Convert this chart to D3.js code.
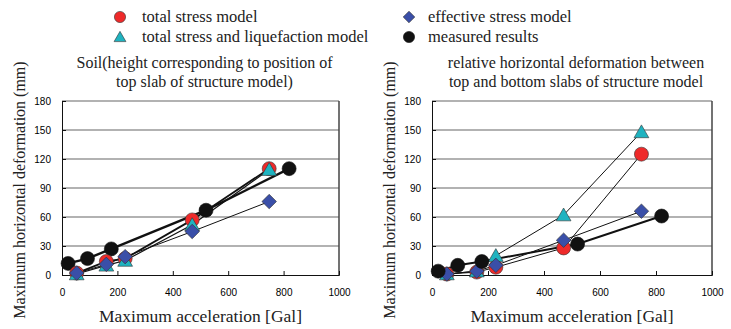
<!DOCTYPE html>
<html>
<head>
<meta charset="utf-8">
<script src="https://cdn.jsdelivr.net/npm/d3@7"></script>
<style>
  body { margin: 0; background: #fff; }
  svg { display: block; }
  .tick text { font-family: "Liberation Sans Narrow", "Arial Narrow", "Liberation Sans", Arial, sans-serif; font-size: 10px; }
</style>
</head>
<body>
<div id="chart"></div>
<script>
// accelerations [Gal]
const modelAccel = [53, 160, 228, 470, 748];
const measAccel = [22, 92, 178, 520, 820];

// left panel: soil at top slab height
const leftTotal = [2, 14, 17, 57, 110];
const leftLiq = [1, 10, 15, 52, 109];
const leftEff = [2, 11, 19, 45, 76];
const leftMeas = [12, 17, 27, 67, 110];

// right panel: relative deformation between slabs
const rightTotal = [1, 3, 8, 28, 125];
const rightLiq = [1, 4, 20, 62, 148];
const rightEff = [1, 4, 10, 36, 66];
const rightMeas = [4, 10, 14, 32, 61];

const xTicks = [0, 200, 400, 600, 800, 1000];
const yTicks = [0, 30, 60, 90, 120, 150, 180];

const legendItems = [
  { label: "total stress model", kind: "total" },
  { label: "total stress and liquefaction model", kind: "liq" },
  { label: "effective stress model", kind: "eff" },
  { label: "measured results", kind: "meas" }
];

const fills = { total: "#ee2a2a", liq: "#1fb3c0", eff: "#3a4fa8", meas: "#111" };
const serif = '"Liberation Serif", "DejaVu Serif", "Times New Roman", serif';

const width = 731, height = 329;
const svg = d3.select("#chart").append("svg")
  .attr("width", width)
  .attr("height", height);

function label(sel, size) {
  return sel.append("text")
    .style("font-family", serif)
    .style("font-size", size + "px")
    .attr("fill", "#222");
}

function marker(sel, kind, s) {
  if (kind === "total" || kind === "meas") {
    sel.append("circle").attr("r", 7 * s);
  } else if (kind === "liq") {
    sel.append("path").attr("d", d3.symbol(d3.symbolTriangle, 95 * s * s)())
      .attr("transform", `translate(0,${1.5 * s})`);
  } else {
    sel.append("path").attr("d", d3.symbol(d3.symbolSquare, 105 * s * s)())
      .attr("transform", "rotate(45)");
  }
  sel.selectAll("circle,path")
    .attr("fill", fills[kind])
    .attr("stroke", kind === "meas" ? "#111" : "#333")
    .attr("stroke-width", 0.6);
}

function panel(x0, x1, titleLines, series) {
  const x = d3.scaleLinear().domain([0, 1000]).range([x0, x1]);
  const y = d3.scaleLinear().domain([0, 180]).range([275, 101]);

  const g = svg.append("g");

  // grid
  g.append("g").selectAll("line")
    .data(yTicks.slice(1))
    .join("line")
    .attr("x1", x0).attr("x2", x1)
    .attr("y1", d => y(d)).attr("y2", d => y(d))
    .attr("stroke", "#999").attr("stroke-width", 1.5);

  g.append("line")
    .attr("x1", x1).attr("x2", x1).attr("y1", y(180)).attr("y2", y(0))
    .attr("stroke", "#444").attr("stroke-width", 1.5);

  g.append("g")
    .attr("transform", `translate(0,${y(0)})`)
    .call(d3.axisBottom(x).tickValues(xTicks).tickFormat(d3.format("d")).tickSize(-4).tickPadding(14))
    .call(a => a.select(".domain").attr("stroke", "#111"))
    .call(a => a.selectAll(".tick line").attr("stroke", "#111"));

  g.append("g")
    .attr("transform", `translate(${x0},0)`)
    .call(d3.axisLeft(y).tickValues(yTicks).tickSize(-4).tickPadding(11))
    .call(a => a.select(".domain").attr("stroke", "#111"))
    .call(a => a.selectAll(".tick line").attr("stroke", "#111"));

  const line = d3.line().x(d => x(d[0])).y(d => y(d[1]));

  series.forEach(s => {
    const pts = s.xs.map((v, i) => [v, s.ys[i]]);
    g.append("path")
      .attr("d", line(pts))
      .attr("fill", "none")
      .attr("stroke", "#111")
      .attr("stroke-width", s.lw);
  });

  series.forEach(s => {
    const pts = s.xs.map((v, i) => [v, s.ys[i]]);
    g.append("g").selectAll("g")
      .data(pts)
      .join("g")
      .attr("transform", d => `translate(${x(d[0])},${y(d[1])})`)
      .each(function () { marker(d3.select(this), s.kind, 1); });
  });

  const cx = (x0 + x1) / 2 + 4;
  label(g, 16).attr("x", cx).attr("y", 68)
    .attr("text-anchor", "middle").text(titleLines[0]);
  label(g, 16).attr("x", cx).attr("y", 87)
    .attr("text-anchor", "middle").text(titleLines[1]);

  label(g, 17.5).attr("x", (x0 + x1) / 2).attr("y", 322)
    .attr("text-anchor", "middle").text("Maximum acceleration [Gal]");

  label(g, 16).attr("transform", `translate(${x0 - 37},190) rotate(-90)`)
    .attr("text-anchor", "middle").text("Maximum horizontal deformation (mm)");
}

panel(62, 339,
  ["Soil(height corresponding to position of", "top slab of structure model)"],
  [
    { kind: "meas", xs: measAccel, ys: leftMeas, lw: 2.4 },
    { kind: "total", xs: modelAccel, ys: leftTotal, lw: 1.8 },
    { kind: "liq", xs: modelAccel, ys: leftLiq, lw: 1.2 },
    { kind: "eff", xs: modelAccel, ys: leftEff, lw: 1 }
  ]);

panel(432, 712,
  ["relative horizontal deformation between", "top and bottom slabs of structure model"],
  [
    { kind: "total", xs: modelAccel, ys: rightTotal, lw: 1 },
    { kind: "liq", xs: modelAccel, ys: rightLiq, lw: 1 },
    { kind: "eff", xs: modelAccel, ys: rightEff, lw: 1 },
    { kind: "meas", xs: measAccel, ys: rightMeas, lw: 2 }
  ]);

// legend
const legendPos = [[120, 17], [120, 37], [409, 17], [409, 37]];
const leg = svg.append("g").selectAll("g")
  .data(legendItems)
  .join("g")
  .attr("transform", (d, i) => `translate(${legendPos[i][0]},${legendPos[i][1]})`);

leg.each(function (d) { marker(d3.select(this), d.kind, 0.8); });

leg.each(function (d, i) {
  label(d3.select(this), 16.5)
    .attr("x", i < 2 ? 22 : 19)
    .attr("y", 5)
    .text(d.label);
});
</script>
</body>
</html>
